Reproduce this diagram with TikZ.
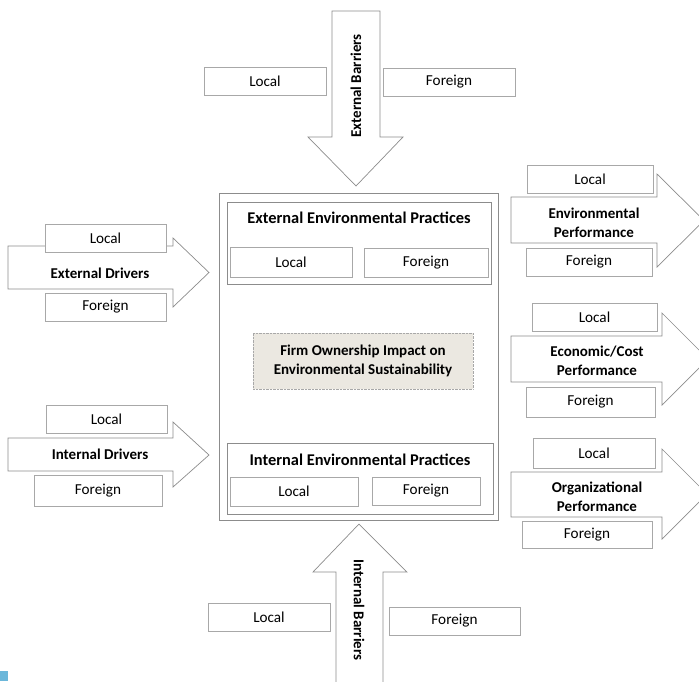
\documentclass[tikz,border=0pt]{standalone}
\usepackage{fontspec}
\setmainfont{Carlito}
\usepackage{xcolor}
\usepackage{tikz}

\definecolor{linegray}{HTML}{8C8C8C}
\definecolor{boxgray}{HTML}{A8A8A8}
\definecolor{sandfill}{HTML}{EBE8E1}
\definecolor{cornerblue}{HTML}{6BB7DA}

\tikzset{
  bigarrow/.style={draw=linegray, fill=white, line width=0.7pt},
  sidebox/.style={draw=boxgray, fill=white, line width=0.7pt, inner sep=0pt},
  frame/.style={draw=linegray, fill=white, line width=0.8pt},
  heading/.style={font=\fontsize{15}{19}\selectfont\bfseries, align=center},
  bigheading/.style={font=\fontsize{16.4}{19}\selectfont\bfseries},
}

\begin{document}
\begin{tikzpicture}[x=1pt,y=-1pt,font=\fontsize{15.2}{18}\selectfont]
\useasboundingbox (0,0) rectangle (699,681);

% barriers
\draw[bigarrow] (332,11) -- (380,11) -- (380,137) -- (403,137) -- (356,186) -- (308,137) -- (332,137) -- cycle;
\draw[bigarrow] (336,695) -- (336,572) -- (313,572) -- (359,524) -- (407,572) -- (383,572) -- (383,695) -- cycle;
\node[heading, rotate=90] (extbar) at (356,86) {External Barriers};
\node[heading, rotate=-90] (intbar) at (359,610) {Internal Barriers};

% drivers
\draw[bigarrow] (8,246) -- (173,246) -- (173,238) -- (209,272.5) -- (173,307) -- (173,289) -- (8,289) -- cycle;
\draw[bigarrow] (8,438) -- (173,438) -- (173,422) -- (209,455) -- (173,487) -- (173,471) -- (8,471) -- cycle;
\node[heading] (extdrv) at (100,273) {External Drivers};
\node[heading] (intdrv) at (100,454) {Internal Drivers};

% performance
\draw[bigarrow] (511,197) -- (657,197) -- (657,174) -- (704,220.5) -- (657,267) -- (657,243) -- (511,243) -- cycle;
\draw[bigarrow] (511,336) -- (662,336) -- (662,313) -- (708,359) -- (662,405) -- (662,382) -- (511,382) -- cycle;
\draw[bigarrow] (511,472) -- (662,472) -- (662,449) -- (707,494) -- (662,539) -- (662,517) -- (511,517) -- cycle;
\node[heading] (envperf) at (594,222.5) {Environmental\\Performance};
\node[heading] (ecoperf) at (597,361) {Economic/Cost\\Performance};
\node[heading] (orgperf) at (597,497) {Organizational\\Performance};

% local / foreign boxes
\node[sidebox, minimum width=122, minimum height=28] (extbarL) at (265,81) {Local};
\node[sidebox, minimum width=132, minimum height=28] (extbarF) at (449,82) {Foreign};
\node[sidebox, minimum width=122, minimum height=28] (intbarL) at (269,617) {Local};
\node[sidebox, minimum width=131, minimum height=28] (intbarF) at (454.5,621) {Foreign};
\node[sidebox, minimum width=121, minimum height=28] (extdrvL) at (105.5,238) {Local};
\node[sidebox, minimum width=121, minimum height=28] (extdrvF) at (105.5,307) {Foreign};
\node[sidebox, minimum width=121, minimum height=28] (intdrvL) at (106.5,419) {Local};
\node[sidebox, minimum width=128, minimum height=31] (intdrvF) at (98,490.5) {Foreign};
\node[sidebox, minimum width=126, minimum height=28] (envL) at (590,179) {Local};
\node[sidebox, minimum width=126, minimum height=28] (envF) at (589,262) {Foreign};
\node[sidebox, minimum width=125, minimum height=28] (ecoL) at (594.5,317) {Local};
\node[sidebox, minimum width=129, minimum height=30] (ecoF) at (590.5,402) {Foreign};
\node[sidebox, minimum width=122, minimum height=30] (orgL) at (594,453) {Local};
\node[sidebox, minimum width=130, minimum height=27] (orgF) at (587,534.5) {Foreign};

% firm
\draw[frame] (219,193) rectangle (498,520);
\draw[frame] (227,202) rectangle (491,284);
\draw[frame] (227,443) rectangle (493,514);
\node[bigheading] (extprac) at (359,218) {External Environmental Practices};
\node[bigheading] (intprac) at (360,460) {Internal Environmental Practices};
\node[sidebox, minimum width=122, minimum height=30] (extpracL) at (291,262) {Local};
\node[sidebox, minimum width=124, minimum height=29] (extpracF) at (426,262.5) {Foreign};
\node[sidebox, minimum width=128, minimum height=29] (intpracL) at (294,491.5) {Local};
\node[sidebox, minimum width=108, minimum height=28] (intpracF) at (426,491) {Foreign};
\node[heading, draw=boxgray, densely dotted, fill=sandfill, minimum width=220, minimum height=56] (firm) at (363,361) {Firm Ownership Impact on\\Environmental Sustainability};

\fill[cornerblue] (0,671) rectangle (8,681);
\end{tikzpicture}
\end{document}
